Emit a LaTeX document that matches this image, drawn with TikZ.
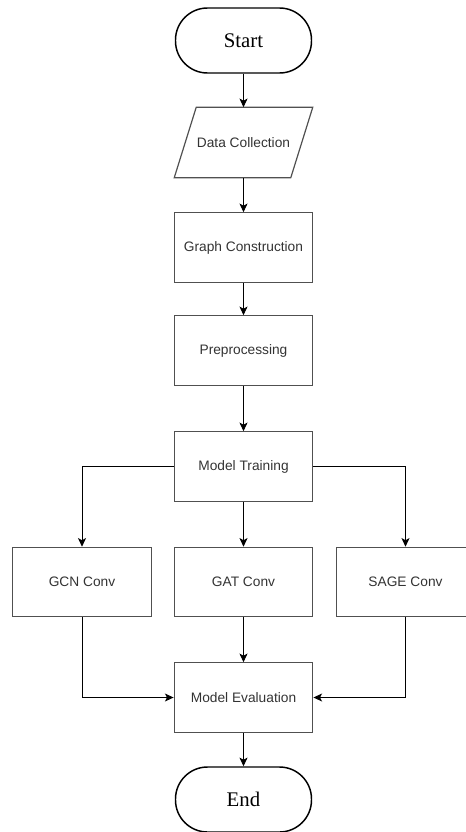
\documentclass[tikz,border=0pt]{standalone}
\usepackage{fontspec}
\setmainfont{Liberation Serif}
\setsansfont{Liberation Sans}
\usepackage{tikz}
\usetikzlibrary{arrows.meta,positioning,shapes.geometric}
\definecolor{boxline}{HTML}{505050}
\definecolor{boxtext}{HTML}{333333}
\tikzset{
  ar/.style={-{Stealth[length=6.5pt,width=6pt,inset=1.6pt]},line width=0.75pt,black},
  box/.style={draw=boxline,line width=0.9pt,minimum width=104pt,minimum height=52pt,inner sep=0pt,
    align=center,text=boxtext,font=\sffamily\fontsize{10.3}{12}\selectfont},
  term/.style={draw=black,line width=1.1pt,rounded corners=24pt,minimum width=102pt,minimum height=48.75pt,
    inner sep=0pt,font=\rmfamily\fontsize{15.6}{18}\selectfont}
}

\begin{document}
\begin{tikzpicture}[x=0.75pt,y=-0.75pt]
\useasboundingbox (0,0) rectangle (466,832);
% main column
\node[term] (start) at (243.5,40.5) {Start};
\node[box,draw=none,minimum width=86.5pt] (data) at (243.5,142.5) {Data Collection};
\draw[boxline,line width=0.9pt] ([xshift=-8.25pt]data.south west) -- ([xshift=-8.25pt]data.south east)
  -- ([xshift=8.25pt]data.north east) -- ([xshift=8.25pt]data.north west) -- cycle;
\node[box] (graph) at (243.5,247.5) {Graph Construction};
\node[box] (prep) at (243.5,350.5) {Preprocessing};
\node[box] (train) at (243.5,466.5) {Model Training};
% the three conv layers
\node[box] (gcn) at (82,582) {GCN Conv};
\node[box] (gat) at (243.5,582) {GAT Conv};
\node[box] (sage) at (405.5,582) {SAGE Conv};
\node[box] (eval) at (243.5,697.5) {Model Evaluation};
\node[term] (end) at (243.5,799.5) {End};

\draw[ar] (start) -- (data);
\draw[ar] (data) -- (graph);
\draw[ar] (graph) -- (prep);
\draw[ar] (prep) -- (train);
\draw[ar] (train.west) -| (gcn.north);
\draw[ar] (train) -- (gat);
\draw[ar] (train.east) -| (sage.north);
\draw[ar] (gcn.south) |- (eval.west);
\draw[ar] (gat) -- (eval);
\draw[ar] (sage.south) |- (eval.east);
\draw[ar] (eval) -- (end);
\end{tikzpicture}
\end{document}
